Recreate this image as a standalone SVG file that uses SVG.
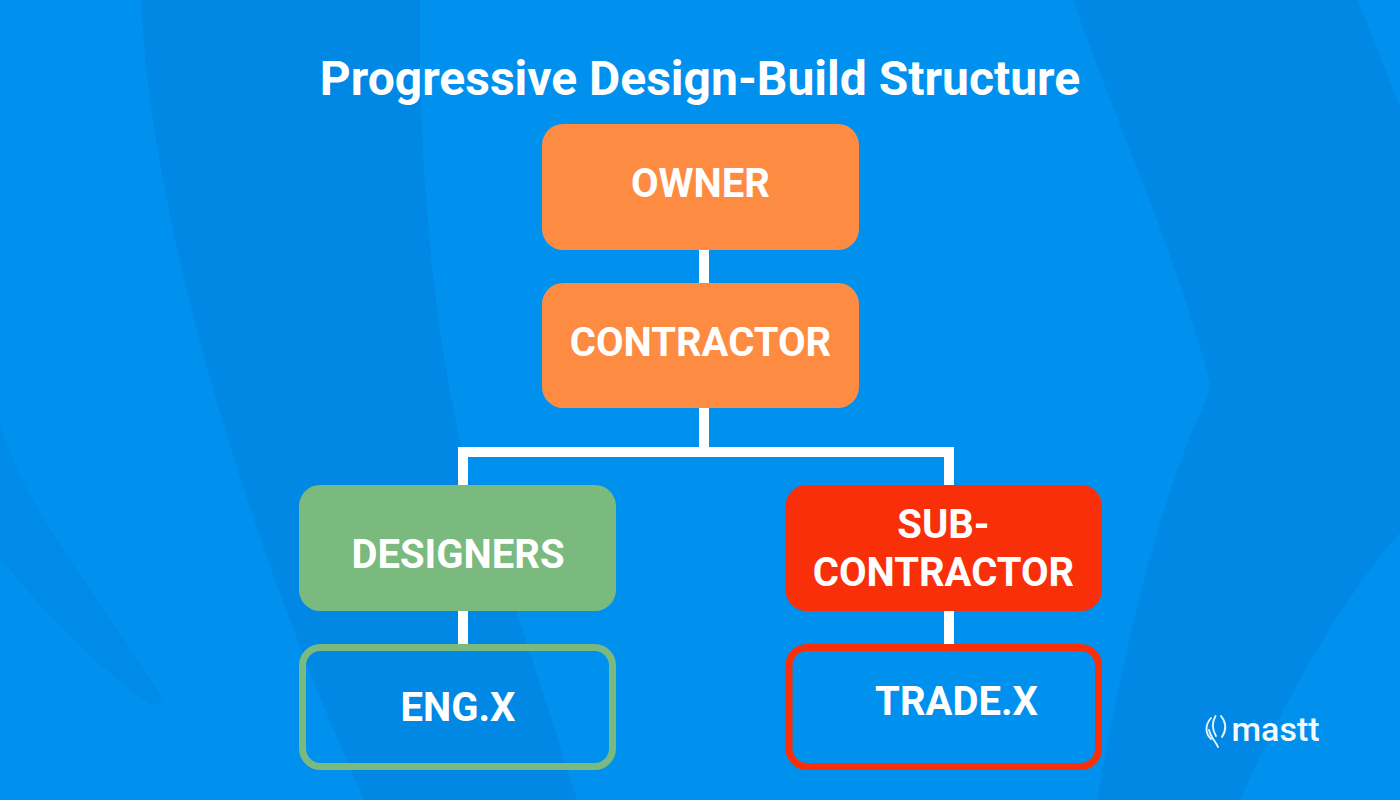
<svg xmlns="http://www.w3.org/2000/svg" width="1400" height="800" viewBox="0 0 1400 800">
<style>
.t{font-family:Roboto,"Liberation Sans",sans-serif;font-weight:700;fill:#fff;text-anchor:middle;font-size:40px}
.c{stroke:#fff;stroke-width:10;fill:none}
.bg{fill:#0088e4}
.m{fill:none;stroke:#e4f4ff;stroke-width:1.9;stroke-linecap:round}
</style>
<rect width="1400" height="800" fill="#0091ef"/>
<g id="background">
<path class="bg" d="M141 0C150 200 230 500 364 800H577C540 680 500 560 470 480C440 370 418 200 420 0Z"/>
<path class="bg" opacity=".65" d="M0 423C25 510 95 590 162 697C160 703 155 705 150 705C95 665 40 610 0 557Z"/>
<path class="bg" d="M1073 0C1115 120 1175 250 1210 383C1208 392 1207 397 1205 402C1160 500 1130 620 1097 800H1240C1280 710 1340 600 1400 533V107L1358 0Z"/>
</g>
<text class="t" x="700" y="95" style="font-size:48px">Progressive Design-Build Structure</text>
<g id="connectors">
<path class="c" d="M704 250V283M704 408V452M463 485V452H949V485M463 611V644M949 611V644"/>
</g>
<g id="owner"><rect x="542" y="124" width="317" height="126" rx="21" fill="#fe8b42"/><text class="t" x="700.500" y="197">OWNER</text></g>
<g id="contractor"><rect x="542" y="283" width="317" height="125" rx="21" fill="#fe8b42"/><text class="t" x="700.500" y="356">CONTRACTOR</text></g>
<g id="designers"><rect x="299" y="485" width="317" height="126" rx="21" fill="#7aba7f"/><text class="t" x="458" y="568">DESIGNERS</text></g>
<g id="subcontractor"><rect x="785.500" y="485" width="316.500" height="126" rx="21" fill="#f82f08"/><text class="t" x="943.500" y="538">SUB-</text><text class="t" x="943.500" y="586">CONTRACTOR</text></g>
<g id="eng"><rect x="302.500" y="647.500" width="310" height="119" rx="18" fill="none" stroke="#7aba7f" stroke-width="7"/><text class="t" x="458" y="721">ENG.X</text></g>
<g id="trade"><rect x="789" y="647.500" width="309.500" height="119" rx="18" fill="none" stroke="#f82f08" stroke-width="7"/><text class="t" x="956.500" y="715">TRADE.X</text></g>
<g id="logo">
<path class="m" d="M1211 718C1205 725 1205 733 1211 739"/>
<path class="m" d="M1215.500 716C1211 724 1213 731 1216 736"/>
<path class="m" d="M1221 716C1226 722 1227 729 1222 737"/>
<path class="m" d="M1209 730C1211 738 1216 742 1218 747"/>
<text x="1231.500" y="741" style="font-family:Roboto,sans-serif;font-weight:500;font-size:34px;fill:#f4fbff">mastt</text>
</g>
</svg>
